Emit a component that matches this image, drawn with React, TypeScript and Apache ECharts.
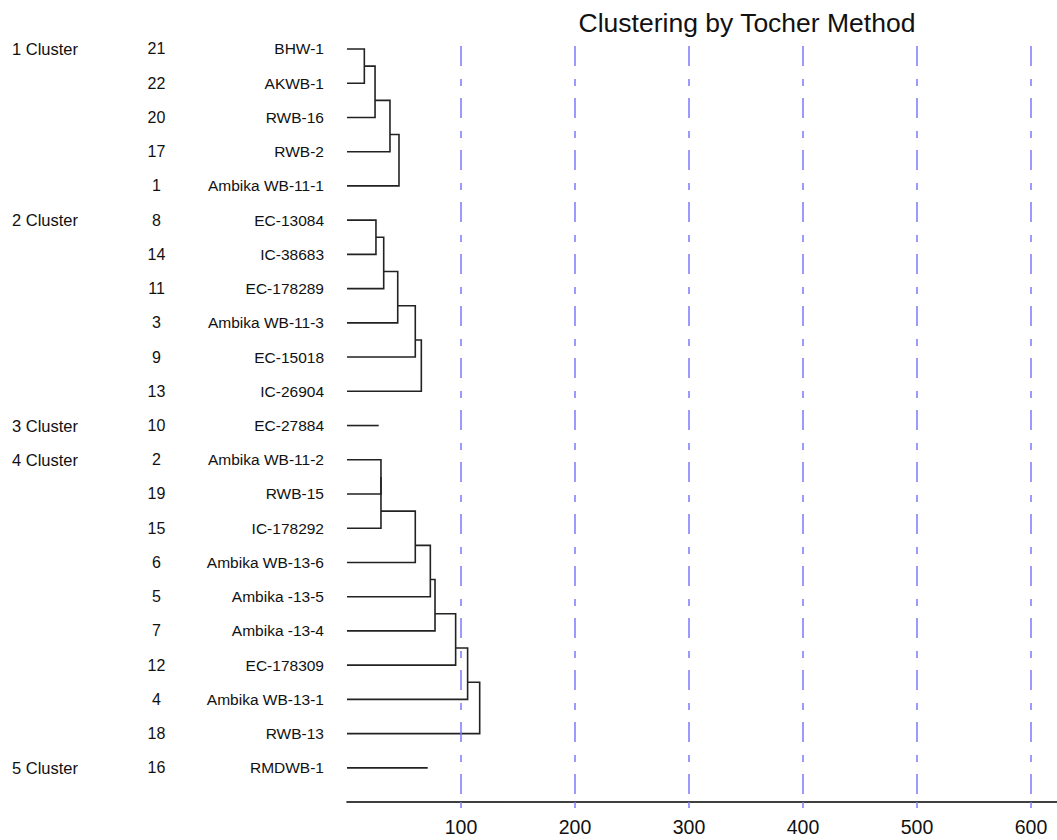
import React, { useEffect, useRef } from 'react';
import * as echarts from 'echarts';

const FONT = '"Liberation Sans", Arial, sans-serif';

const titleText = 'Clustering by Tocher Method';
const clusterLabels = ['1 Cluster', '2 Cluster', '3 Cluster', '4 Cluster', '5 Cluster'];
const clusterSizes = [5, 6, 1, 9, 1];
const genotypeNumbers = [21, 22, 20, 17, 1, 8, 14, 11, 3, 9, 13, 10, 2, 19, 15, 6, 5, 7, 12, 4, 18, 16];
const genotypeNames = [
  'BHW-1', 'AKWB-1', 'RWB-16', 'RWB-2', 'Ambika WB-11-1',
  'EC-13084', 'IC-38683', 'EC-178289', 'Ambika WB-11-3', 'EC-15018', 'IC-26904',
  'EC-27884',
  'Ambika WB-11-2', 'RWB-15', 'IC-178292', 'Ambika WB-13-6', 'Ambika -13-5', 'Ambika -13-4', 'EC-178309', 'Ambika WB-13-1', 'RWB-13',
  'RMDWB-1',
];
// height at which each successive genotype joins the group above it, per cluster
const clusterMerges: number[][] = [
  [15.2, 24.6, 37.7, 45.6],
  [25.4, 32.2, 44.5, 59.9, 65.2],
  [],
  [29.8, 29.8, 59.9, 73.1, 77.2, 95.3, 105.8, 116.4],
  [],
];
// stub length for single-member clusters
const singletonLengths: (number | null)[] = [null, null, 27.8, null, 70.8];
const xTickValues = [100, 200, 300, 400, 500, 600];

export default function App() {
  const ref = useRef<HTMLDivElement>(null);

  useEffect(() => {
    if (!ref.current) return;
    const chart = echarts.init(ref.current, undefined, { renderer: 'svg' });

    const rows = genotypeNames.map((_, i) => i + 1);
    const clusterStartRows: number[] = [];
    const segs: { coords: number[][] }[] = [];
    let start = 1;
    clusterSizes.forEach((size, c) => {
      clusterStartRows.push(start);
      const r = Array.from({ length: size }, (_, i) => start + i);
      const m = clusterMerges[c];
      if (size === 1) {
        segs.push({ coords: [[0, r[0]], [singletonLengths[c] as number, r[0]]] });
      } else {
        segs.push({ coords: [[0, r[0]], [m[0], r[0]], [m[0], r[1]], [0, r[1]]] });
        for (let k = 2; k < size; k++) {
          const outY = (r[k - 2] + r[k - 1]) / 2;
          segs.push({ coords: [[m[k - 2], outY], [m[k - 1], outY], [m[k - 1], r[k]], [0, r[k]]] });
        }
      }
      start += size;
    });

    const yBase = {
      type: 'value',
      inverse: true,
      min: 0.9124,
      max: 22.998,
      position: 'left',
      offset: 0,
      axisLine: { show: false },
      axisTick: { show: false },
      splitLine: { show: false },
    };
    const textColor = '#111';
    const blue = '#7b7bff';

    chart.setOption({
      animation: false,
      grid: { left: 347, right: 0, top: 46, bottom: 38 },
      graphic: [
        {
          type: 'text',
          x: 747,
          y: 23,
          style: {
            text: titleText,
            fontSize: 26.5,
            fontFamily: FONT,
            fill: textColor,
            align: 'center',
            verticalAlign: 'middle',
          },
        },
      ],
      xAxis: {
        type: 'value',
        min: 0,
        max: 622.8,
        interval: 100,
        axisLine: { show: true, onZero: false, lineStyle: { color: '#000', width: 1.6 } },
        axisTick: { show: true, customValues: xTickValues, length: 6, lineStyle: { color: blue, width: 1.5 } },
        axisLabel: {
          customValues: xTickValues,
          margin: 15,
          fontSize: 19.5,
          fontFamily: FONT,
          color: textColor,
        },
        splitLine: { show: false },
      },
      yAxis: [
        { ...yBase, axisLabel: { show: false } },
        {
          ...yBase,
          axisLabel: {
            customValues: rows,
            formatter: (v: number) => genotypeNames[Math.round(v) - 1],
            margin: 23,
            align: 'right',
            fontSize: 15.5,
            fontFamily: FONT,
            color: textColor,
          },
        },
        {
          ...yBase,
          axisLabel: {
            customValues: rows,
            formatter: (v: number) => String(genotypeNumbers[Math.round(v) - 1]),
            margin: 190.5,
            align: 'center',
            fontSize: 16,
            fontFamily: FONT,
            color: textColor,
          },
        },
        {
          ...yBase,
          axisLabel: {
            customValues: clusterStartRows,
            formatter: (v: number) => clusterLabels[clusterStartRows.indexOf(Math.round(v))],
            margin: 335,
            align: 'left',
            fontSize: 16.5,
            fontFamily: FONT,
            color: textColor,
          },
        },
      ],
      series: [
        {
          type: 'lines',
          coordinateSystem: 'cartesian2d',
          xAxisIndex: 0,
          yAxisIndex: 0,
          polyline: true,
          silent: true,
          lineStyle: { color: '#222', width: 1.6, opacity: 1 },
          data: segs,
          markLine: {
            silent: true,
            symbol: ['none', 'none'],
            label: { show: false },
            lineStyle: { color: blue, width: 1.5, type: [20, 13, 7, 12], opacity: 1 },
            data: xTickValues.map((v) => ({ xAxis: v })),
          },
        },
      ],
    });

    return () => chart.dispose();
  }, []);

  return (
    <div
      ref={ref}
      style={{ position: 'absolute', left: 0, top: 0, width: 1057, height: 840, background: '#fff' }}
    />
  );
}
